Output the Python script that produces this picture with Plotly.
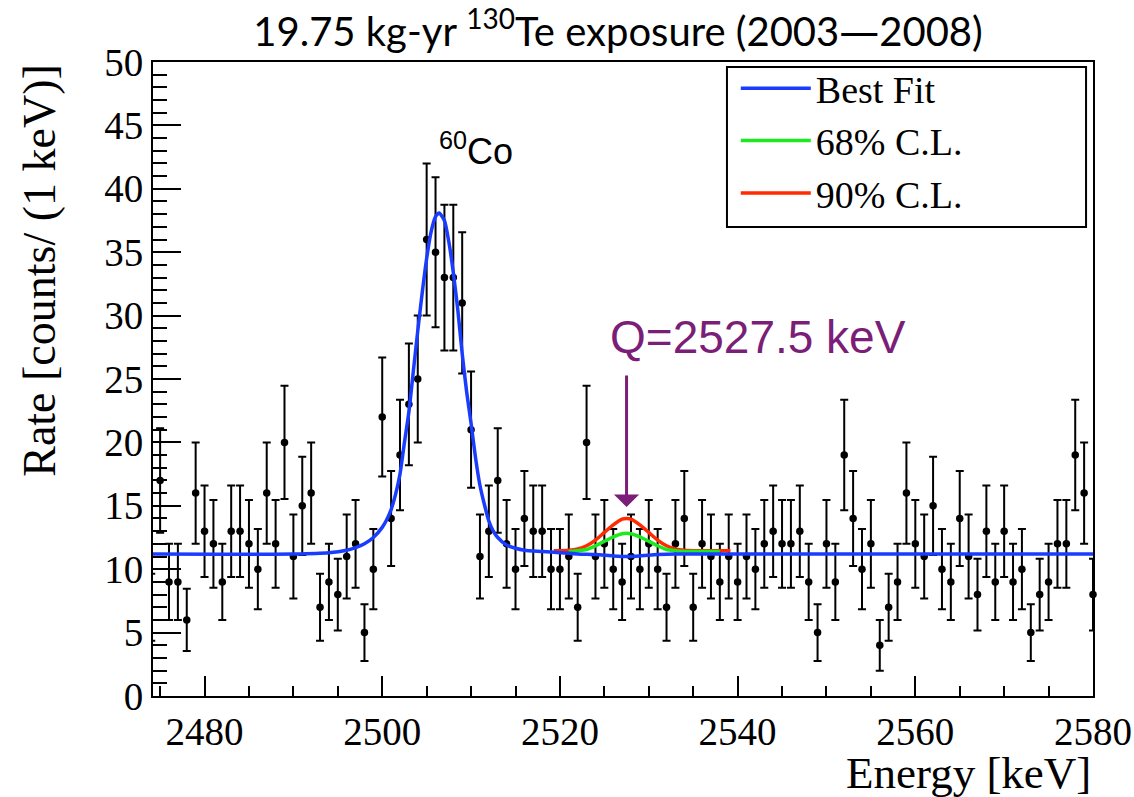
import plotly.graph_objects as go

# ---- data (counts per 1 keV bin) ----
energy = list(range(2474, 2581))
counts = [7, 17, 9, 9, 6, 16, 13, 12, 9, 13, 13, 12, 10, 16, 12, 20, 11, 15, 16, 7,
          9, 8, 11, 12, 5, 10, 22, 14, 19, 23, 25, 36, 35, 33, 33, 31, 21, 11, 13, 17,
          12, 10, 14, 13, 13, 10, 10, 11, 7, 20, 11, 12, 10, 9, 11, 10, 12, 10, 7, 12,
          14, 7, 12, 11, 9, 11, 9, 11, 10, 12, 13, 12, 12, 13, 9, 5, 12, 9, 19, 14,
          10, 12, 4, 7, 9, 16, 12, 11, 15, 10, 9, 14, 11, 8, 13, 9, 13, 9, 10, 5,
          8, 9, 12, 12, 19, 16, 8]

# ---- fit curves ----
best_e = [2474, 2490, 2494, 2496, 2497, 2498, 2499, 2500, 2500.5, 2501, 2501.5, 2502,
          2502.5, 2503, 2503.5, 2504, 2504.5, 2505, 2505.5, 2506, 2506.4, 2507, 2507.5,
          2508, 2508.5, 2509, 2509.5, 2510, 2510.5, 2511, 2511.5, 2512, 2512.5, 2513,
          2514, 2515, 2516, 2518, 2520, 2522, 2524, 2526, 2527.5, 2529, 2531, 2533, 2580]
best_v = [11.2, 11.2, 11.3, 11.5, 11.7, 12.0, 12.5, 13.3, 13.9, 14.7, 15.9, 17.5,
          20.0, 22.4, 25.6, 28.8, 31.8, 34.5, 36.6, 37.8, 38.1, 37.5, 35.8,
          33.4, 30.5, 27.0, 24.0, 21.5, 18.8, 16.6, 15.1, 13.8, 13.0, 12.5,
          11.9, 11.65, 11.5, 11.4, 11.3, 11.2, 11.15, 11.05, 11.0, 11.05, 11.15, 11.2, 11.2]

cl68_e = [2521, 2522, 2523, 2524, 2525, 2526, 2527, 2527.5, 2528, 2529, 2530, 2531,
          2532, 2533, 2534, 2538]
cl68_v = [11.4, 11.45, 11.55, 11.85, 12.2, 12.55, 12.8, 12.83, 12.8, 12.55, 12.2,
          11.85, 11.55, 11.45, 11.4, 11.4]

cl90_e = [2519.3, 2521, 2522, 2523, 2524, 2525, 2526, 2527, 2527.5, 2528, 2529, 2530,
          2531, 2532, 2533, 2534, 2535.5, 2539.2]
cl90_v = [11.45, 11.5, 11.6, 11.85, 12.3, 12.9, 13.5, 13.95, 14.0, 13.95, 13.5, 12.9,
          12.3, 11.85, 11.6, 11.5, 11.45, 11.45]

legend_names = ["Best Fit", "68% C.L.", "90% C.L."]
q_value = 2527.5
arrow_tip, arrow_tail = 14.9, 25.4

serif = "Liberation Serif, Times New Roman, serif"
sans = "Liberation Sans, Arial, sans-serif"
purple = "#7a1e78"

fig = go.Figure()

fig.add_trace(go.Scatter(
    x=energy, y=counts, mode="markers", showlegend=False, cliponaxis=False,
    marker=dict(color="black", size=7.5),
    error_y=dict(type="sqrt", color="black", thickness=2, width=4),
))
fig.add_trace(go.Scatter(
    x=cl90_e, y=cl90_v, mode="lines", name=legend_names[2],
    line=dict(color="#ff2a00", width=3.5, shape="spline", smoothing=0.6),
))
fig.add_trace(go.Scatter(
    x=cl68_e, y=cl68_v, mode="lines", name=legend_names[1],
    line=dict(color="#1ee81e", width=3.5, shape="spline", smoothing=0.6),
))
fig.add_trace(go.Scatter(
    x=best_e, y=best_v, mode="lines", name=legend_names[0],
    line=dict(color="#1a3cff", width=3.5, shape="spline", smoothing=0.6),
))

title_text = ("19.75 kg-yr <sup>130</sup>Te exposure (2003"
              "<span style='font-family:DejaVu Sans'>\u2014</span>2008)")

fig.update_layout(
    width=1134, height=797,
    margin=dict(l=153, r=41, t=62, b=101, autoexpand=False),
    paper_bgcolor="white", plot_bgcolor="white",
    title=dict(text=title_text,
               font=dict(family="Lato, Open Sans, sans-serif", size=40, color="black"),
               x=0.545, xanchor="center", y=0.96, yanchor="middle"),
    legend=dict(x=0.62, y=1.008, xanchor="left", yanchor="top",
                borderwidth=0, bgcolor="rgba(0,0,0,0)",
                font=dict(family=serif, size=38, color="black"),
                itemwidth=70, traceorder="reversed"),
    showlegend=True,
    shapes=[dict(type="rect", xref="paper", yref="paper",
                 x0=0.6106, x1=0.9926, y0=0.7397, y1=0.9921,
                 line=dict(color="black", width=2), fillcolor="rgba(0,0,0,0)",
                 layer="above")],
)

fig.update_xaxes(
    range=[2474.2, 2580], showgrid=False, zeroline=False, automargin=False,
    showline=True, linecolor="black", linewidth=2, mirror=True,
    ticks="inside", ticklen=20, tickwidth=2, tickcolor="black",
    tick0=2480, dtick=20,
    minor=dict(ticks="inside", ticklen=10, tickwidth=2, tickcolor="black", dtick=5, tick0=2480),
    tickfont=dict(family=serif, size=39, color="black"),
)
fig.update_yaxes(
    range=[0, 50], showgrid=False, zeroline=False, automargin=False,
    showline=True, linecolor="black", linewidth=2, mirror=True,
    ticks="inside", ticklen=28, tickwidth=2, tickcolor="black",
    tick0=0, dtick=5,
    minor=dict(ticks="inside", ticklen=14, tickwidth=2, tickcolor="black", dtick=1),
    tickfont=dict(family=serif, size=39, color="black"),
)

fig.add_annotation(text="Energy [keV]", xref="paper", yref="paper", x=1.0, y=-0.122,
                   xanchor="right", yanchor="middle", showarrow=False,
                   font=dict(family=serif, size=45, color="black"))
fig.add_annotation(text="Rate [counts/ (1 keV)]", xref="paper", yref="paper", x=-0.121, y=1.0,
                   xanchor="center", yanchor="top", textangle=-90, showarrow=False,
                   font=dict(family=serif, size=46, color="black"))
fig.add_annotation(text="<sup>60</sup>Co", x=2510.6, y=43.1, xref="x", yref="y",
                   xanchor="center", yanchor="middle", showarrow=False,
                   font=dict(family=sans, size=36, color="black"))
fig.add_annotation(text="Q=2527.5 keV", x=2542.3, y=28.3, xref="x", yref="y",
                   xanchor="center", yanchor="middle", showarrow=False,
                   font=dict(family=sans, size=46, color=purple))
fig.add_annotation(text="", x=q_value, y=arrow_tip, ax=q_value, ay=arrow_tail,
                   xref="x", yref="y", axref="x", ayref="y",
                   showarrow=True, arrowhead=1, arrowsize=1.4, arrowwidth=3,
                   arrowcolor=purple)

# remove the default 8px page margin so the figure sits at the window's corner
fig.write_html("out.html", config={"displayModeBar": False},
               post_script="document.body.style.margin='0';document.body.style.overflow='hidden';")
